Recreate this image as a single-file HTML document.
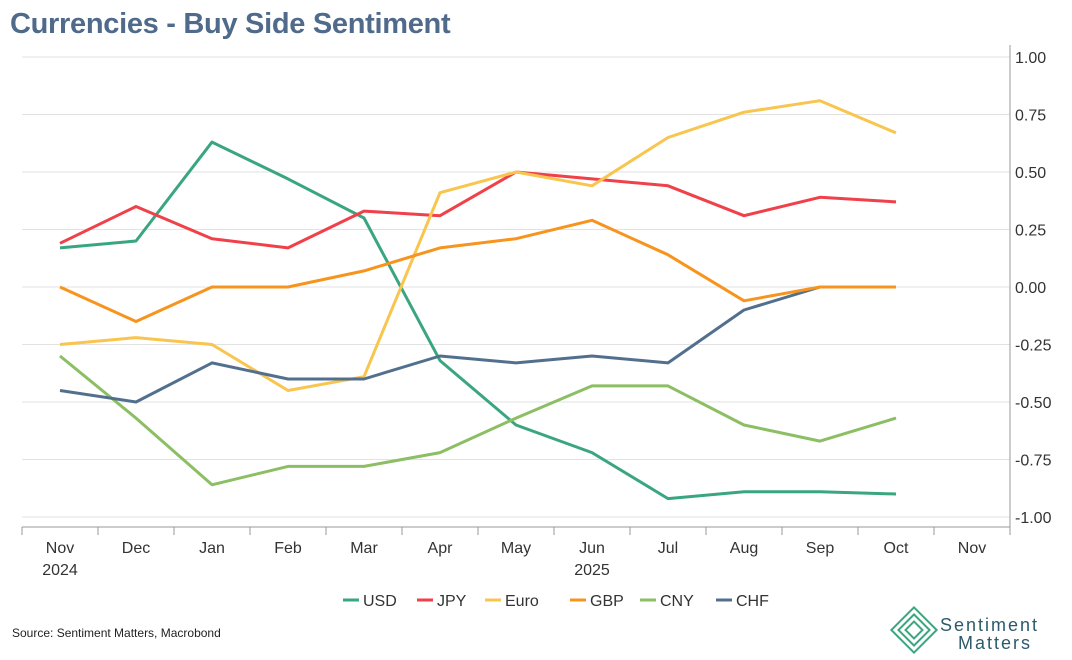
<!DOCTYPE html>
<html><head><meta charset="utf-8"><style>
body{margin:0;background:#fff;font-family:"Liberation Sans",Arial,sans-serif}
#wrap{position:relative;width:1072px;height:660px;overflow:hidden}
h1{position:absolute;left:10px;top:8px;margin:0;font-size:29px;font-weight:bold;color:#4f6a8a;letter-spacing:-0.3px}
</style></head><body>
<div id="wrap">
<h1>Currencies - Buy Side Sentiment</h1>
<svg id="c" width="1072" height="660" style="position:absolute;left:0;top:0"></svg>
</div>
<script>
const months=["Nov","Dec","Jan","Feb","Mar","Apr","May","Jun","Jul","Aug","Sep","Oct","Nov"];
const years={0:"2024",7:"2025"};
const yTicks=[1,0.75,0.5,0.25,0,-0.25,-0.5,-0.75,-1];
const seriesNames=["USD","JPY","Euro","GBP","CNY","CHF"];
const colors=["#3aa67f","#f0404a","#f8c54f","#f7941d","#8cbe63","#52708e"];
const usd=[0.17,0.20,0.63,0.47,0.30,-0.32,-0.60,-0.72,-0.92,-0.89,-0.89,-0.90];
const jpy=[0.19,0.35,0.21,0.17,0.33,0.31,0.50,0.47,0.44,0.31,0.39,0.37];
const euro=[-0.25,-0.22,-0.25,-0.45,-0.39,0.41,0.50,0.44,0.65,0.76,0.81,0.67];
const gbp=[0.00,-0.15,0.00,0.00,0.07,0.17,0.21,0.29,0.14,-0.06,0.00,0.00];
const cny=[-0.30,-0.57,-0.86,-0.78,-0.78,-0.72,-0.57,-0.43,-0.43,-0.60,-0.67,-0.57];
const chf=[-0.45,-0.50,-0.33,-0.40,-0.40,-0.30,-0.33,-0.30,-0.33,-0.10,0.00,0.00];
const data=[usd,jpy,euro,gbp,cny,chf];
const drawOrder=[0,1,2,4,5,3];
const NS="http://www.w3.org/2000/svg",svg=document.getElementById("c");
const X=i=>60+i*76,Y=v=>287-v*230;
function mk(t,a,txt){const e=document.createElementNS(NS,t);for(const k in a)e.setAttribute(k,a[k]);if(txt!=null)e.textContent=txt;svg.appendChild(e);return e;}
yTicks.forEach(v=>{
 const g=mk("line",{x1:22,x2:1010,y1:Y(v),y2:Y(v),stroke:"#e2e2e2","stroke-width":1});
 
 
 const t=mk("text",{x:1015,y:Y(v)+6,"font-size":16,fill:"#333"},v.toFixed(2));
 
 
});
const ax=mk("line",{x1:1010,x2:1010,y1:45,y2:527,stroke:"#999"});


const bx=mk("line",{x1:22,x2:1010,y1:527,y2:527,stroke:"#999"});


for(let i=0;i<=13;i++){const tk=mk("line",{x1:22+i*76,x2:22+i*76,y1:527,y2:535,stroke:"#999"});
 
 }
months.forEach((m,i)=>{
 const t=mk("text",{x:X(i),y:553,"font-size":16,fill:"#333","text-anchor":"middle"},m);
 
 
 if(years[i]){const y=mk("text",{x:X(i),y:575,"font-size":16,fill:"#333","text-anchor":"middle"},years[i]);
 
 }
});
drawOrder.forEach(k=>{
 const s=data[k];
 const p=mk("polyline",{points:s.map((v,i)=>X(i)+","+Y(v)).join(" "),fill:"none",stroke:colors[k],"stroke-width":3,"stroke-linejoin":"round"});
 
 
});
const lx=[343,417,485,570,640,716];
seriesNames.forEach((n,k)=>{
 const l=mk("line",{x1:lx[k],x2:lx[k]+16,y1:600,y2:600,stroke:colors[k],"stroke-width":3});
 
 
 const t=mk("text",{x:lx[k]+20,y:606,"font-size":16,fill:"#333"},n);
 
 
});
const src=mk("text",{x:12,y:637,"font-size":12,fill:"#222"},"Source: Sentiment Matters, Macrobond");


const lg=mk("g",{transform:"translate(914,630)"});


[16,11,6].forEach(r=>{const d=document.createElementNS(NS,"rect");d.setAttribute("x",-r);d.setAttribute("y",-r);d.setAttribute("width",2*r);d.setAttribute("height",2*r);d.setAttribute("transform","rotate(45)");d.setAttribute("fill","none");d.setAttribute("stroke","#3aa67f");d.setAttribute("stroke-width",2);lg.appendChild(d);});
const t1=mk("text",{x:940,y:631,"font-size":18,fill:"#2c5a6a","letter-spacing":"2"},"Sentiment");


const t2=mk("text",{x:958,y:649,"font-size":18,fill:"#2c5a6a","letter-spacing":"2"},"Matters");


</script>
</body></html>
